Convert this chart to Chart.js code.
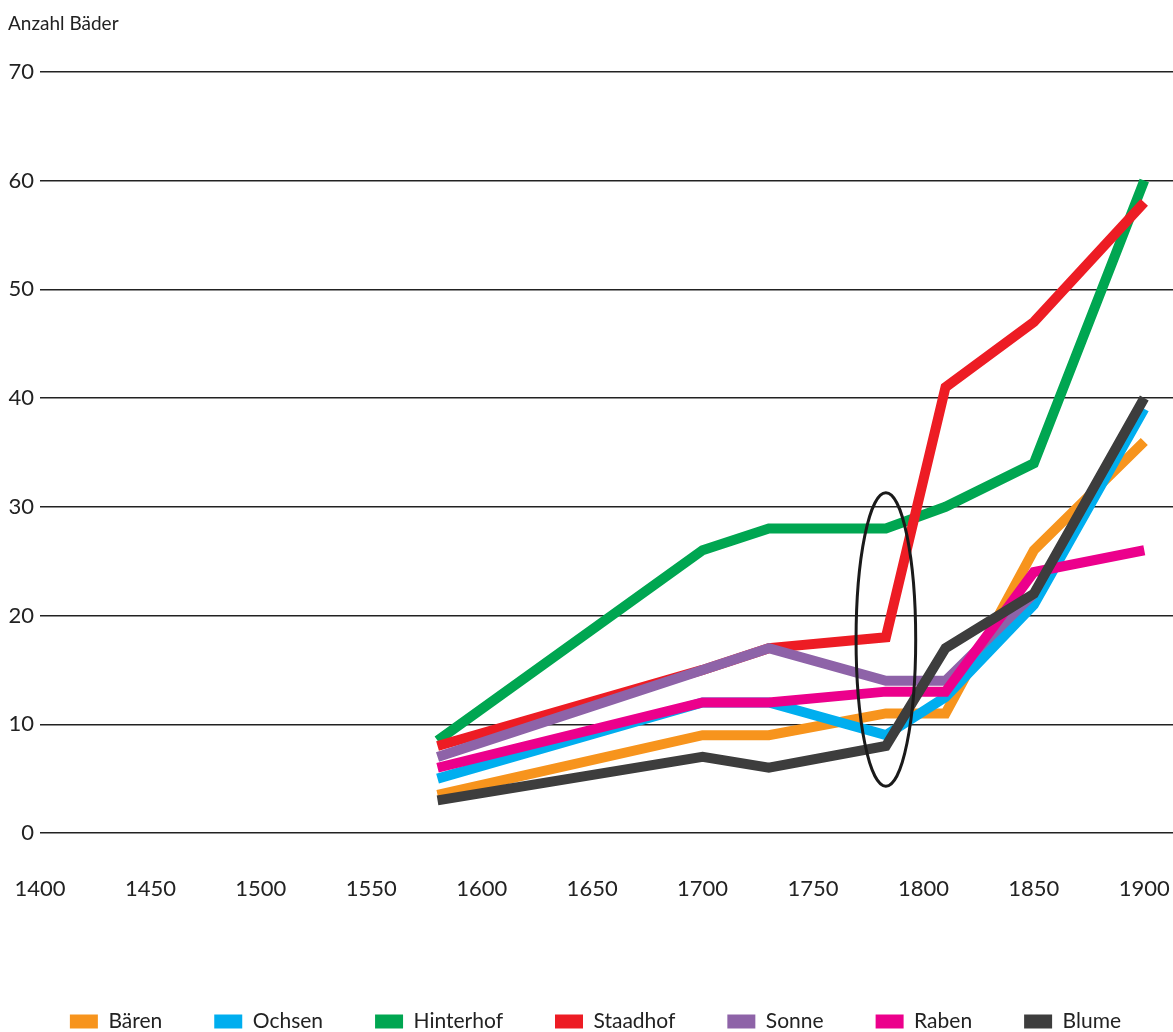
<!DOCTYPE html>
<html>
<head>
<meta charset="utf-8">
<script src="https://cdn.jsdelivr.net/npm/chart.js@4.4.0/dist/chart.umd.min.js"></script>
<style>
  html, body { margin: 0; padding: 0; background: #fff; }
  #wrap { width: 1173px; height: 1032px; position: relative; }
</style>
</head>
<body>
<div id="wrap"><canvas id="chart"></canvas></div>
<script>
// Jahre und Werte
const years = [1580, 1700, 1730, 1783, 1810, 1850, 1900];
const baeren = [3.5, 9, 9, 11, 11, 26, 36];
const ochsen = [5, 12, 12, 9, 12.5, 21, 39];
const hinterhof = [8.5, 26, 28, 28, 30, 34, 60];
const staadhof = [8, 15, 17, 18, 41, 47, 58];
const sonne = [7, 15, 17, 14, 14, 22, null];
const raben = [6, 12, 12, 13, 13, 24, 26];
const blume = [3, 7, 6, 8, 17, 22, 40];

const seriesNames = ["Bären", "Ochsen", "Hinterhof", "Staadhof", "Sonne", "Raben", "Blume"];
const seriesValues = [baeren, ochsen, hinterhof, staadhof, sonne, raben, blume];
const seriesColors = ["#F7941D", "#00AEEF", "#00A651", "#ED1C24", "#8E63A8", "#EC008C", "#3D3D3D"];

// Markierung (Ellipse) um 1783
const markYear = 1783;
const markValue = 17.8;
const markHalfYears = 13.5;
const markHalfValue = 13.5;

const ellipsePlugin = {
  id: "ellipse",
  afterDatasetsDraw(chart) {
    const x = chart.scales.x;
    const y = chart.scales.y;
    const cx = x.getPixelForValue(markYear);
    const cy = y.getPixelForValue(markValue);
    const rx = Math.abs(x.getPixelForValue(markYear + markHalfYears) - cx);
    const ry = Math.abs(y.getPixelForValue(markValue + markHalfValue) - cy);
    const ctx = chart.ctx;
    ctx.save();
    ctx.beginPath();
    ctx.ellipse(cx, cy, rx, ry, 0, 0, Math.PI * 2);
    ctx.lineWidth = 3;
    ctx.strokeStyle = "#1a1a1a";
    ctx.stroke();
    ctx.restore();
  },
};

const datasets = seriesNames.map((name, i) => ({
  label: name,
  data: years.map((yr, j) => ({ x: yr, y: seriesValues[i][j] })),
  borderColor: seriesColors[i],
  backgroundColor: seriesColors[i],
  borderWidth: 10,
  borderJoinStyle: "miter",
  borderCapStyle: "butt",
  pointRadius: 0,
  tension: 0,
  fill: false,
  spanGaps: false,
  order: seriesNames.length - 1 - i,
}));

const defaultLabels = Chart.defaults.plugins.legend.labels.generateLabels;

new Chart(document.getElementById("chart"), {
  type: "line",
  data: { datasets },
  plugins: [ellipsePlugin],
  options: {
    responsive: true,
    maintainAspectRatio: false,
    animation: false,
    devicePixelRatio: 1,
    layout: { padding: { top: 12, right: 0, bottom: -10, left: 8 } },
    plugins: {
      title: {
        display: true,
        text: "Anzahl Bäder",
        align: "start",
        color: "#222",
        font: { family: "Lato", size: 19, weight: "normal" },
        padding: { top: 0, bottom: 37 },
      },
      legend: {
        position: "bottom",
        align: "end",
        labels: {
          boxWidth: 28,
          boxHeight: 14,
          padding: 52,
          color: "#222",
          font: { family: "Lato", size: 21 },
          sort: (a, b) => a.datasetIndex - b.datasetIndex,
          generateLabels(chart) {
            return defaultLabels(chart).map((l) => ({ ...l, lineWidth: 0 }));
          },
        },
      },
      tooltip: { enabled: false },
    },
    scales: {
      x: {
        type: "linear",
        min: 1400,
        max: 1913,
        border: { display: false },
        grid: { display: false },
        ticks: {
          stepSize: 50,
          includeBounds: false,
          padding: 35,
          color: "#222",
          font: { family: "Lato", size: 22 },
          maxRotation: 0,
          callback: (v) => String(v),
        },
        afterFit(scale) {
          scale.paddingLeft = 0;
          scale.paddingRight = 0;
          scale.height = 126;
        },
      },
      y: {
        min: 0,
        max: 70,
        border: { display: false },
        grid: { color: "#222", lineWidth: 1.5, drawTicks: false },
        ticks: {
          stepSize: 10,
          padding: 6,
          color: "#222",
          font: { family: "Lato", size: 22 },
        },
        afterFit(scale) {
          scale.width = 32;
        },
      },
    },
  },
});
</script>
</body>
</html>
